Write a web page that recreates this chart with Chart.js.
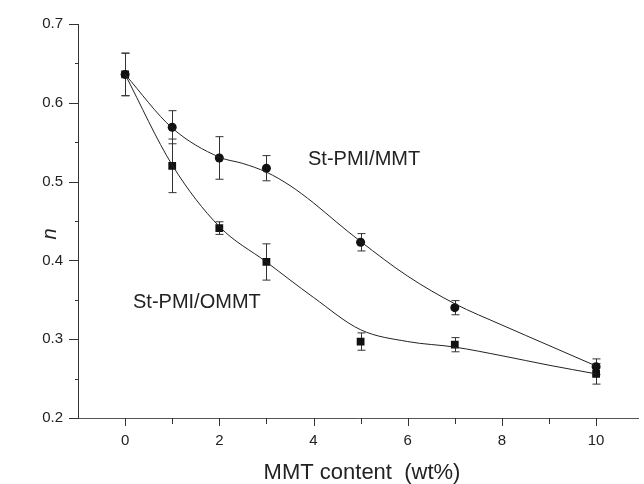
<!DOCTYPE html>
<html>
<head>
<meta charset="utf-8">
<script src="https://cdn.jsdelivr.net/npm/chart.js@4"></script>
<style>
  html, body { margin: 0; padding: 0; background: #fff; }
  #chart { display: block; }
</style>
</head>
<body>
<canvas id="chart" width="644" height="484"></canvas>
<script>
// measured points (MMT content in wt%)
const xValues = [0, 1, 2, 3, 5, 7, 10];
const mmtValues = [0.636, 0.569, 0.530, 0.517, 0.423, 0.340, 0.265];
const mmtErrors = [0.027, 0.021, 0.027, 0.016, 0.011, 0.009, 0.010];
const ommtValues = [0.636, 0.520, 0.441, 0.398, 0.297, 0.293, 0.256];
const ommtErrors = [0.027, 0.034, 0.008, 0.023, 0.011, 0.009, 0.013];

// fitted curves
const mmtCurveX = [0, 1, 2, 2.5, 3, 3.5, 4, 4.5, 5, 6, 7, 8, 9, 10];
const mmtCurve = [0.636, 0.568, 0.531, 0.523, 0.512, 0.495, 0.473, 0.448, 0.424, 0.380, 0.345, 0.318, 0.292, 0.266];
const ommtCurveX = [0, 1, 2, 3, 4, 5, 6, 7, 8, 9, 10];
const ommtCurve = [0.636, 0.521, 0.443, 0.398, 0.353, 0.312, 0.297, 0.290, 0.279, 0.267, 0.256];

const xTickLabels = [0, 2, 4, 6, 8, 10];
const yTickLabels = [0.2, 0.3, 0.4, 0.5, 0.6, 0.7];

const FONT = "'Liberation Sans', Arial, Helvetica, sans-serif";
const INK = "#222";

function toPoints(xs, ys) {
  return xs.map((x, i) => ({ x: x, y: ys[i] }));
}

const errorBars = {
  id: "errorBars",
  beforeDatasetsDraw(chart) {
    const { ctx, scales } = chart;
    const sets = [
      [mmtValues, mmtErrors],
      [ommtValues, ommtErrors],
    ];
    ctx.save();
    ctx.strokeStyle = "#333";
    ctx.lineWidth = 1;
    for (const [vals, errs] of sets) {
      xValues.forEach((x, i) => {
        const px = Math.round(scales.x.getPixelForValue(x)) + 0.5;
        const top = scales.y.getPixelForValue(vals[i] + errs[i]);
        const bot = scales.y.getPixelForValue(vals[i] - errs[i]);
        ctx.beginPath();
        ctx.moveTo(px, top);
        ctx.lineTo(px, bot);
        ctx.moveTo(px - 4, top);
        ctx.lineTo(px + 4, top);
        ctx.moveTo(px - 4, bot);
        ctx.lineTo(px + 4, bot);
        ctx.stroke();
      });
    }
    ctx.restore();
  },
};

const axisMarks = {
  id: "axisMarks",
  afterDraw(chart) {
    const { ctx, scales, chartArea } = chart;
    ctx.save();
    ctx.strokeStyle = "#333";
    ctx.lineWidth = 1;
    ctx.beginPath();
    scales.x.ticks.forEach((t) => {
      if (t.value <= -1 || !Number.isInteger(t.value)) return;
      const px = Math.round(scales.x.getPixelForValue(t.value)) + 0.5;
      const len = xTickLabels.includes(t.value) ? 8 : 6;
      ctx.moveTo(px, chartArea.bottom);
      ctx.lineTo(px, chartArea.bottom + len);
    });
    scales.y.ticks.forEach((t) => {
      const py = Math.round(scales.y.getPixelForValue(t.value)) + 0.5;
      const major = yTickLabels.some((v) => Math.abs(v - t.value) < 1e-6);
      ctx.moveTo(chartArea.left, py);
      ctx.lineTo(chartArea.left - (major ? 9 : 3), py);
    });
    ctx.stroke();

    ctx.fillStyle = INK;
    ctx.font = "22px " + FONT;
    ctx.textAlign = "center";
    ctx.textBaseline = "alphabetic";
    ctx.fillText("MMT content  (wt%)", 362, 479);

    ctx.font = "20px " + FONT;
    ctx.textAlign = "left";
    ctx.fillText("St-PMI/MMT", 308, 165);
    ctx.fillText("St-PMI/OMMT", 133, 308);

    ctx.translate(56, 234);
    ctx.rotate(-Math.PI / 2);
    ctx.textAlign = "center";
    ctx.font = "italic 20px " + FONT;
    ctx.fillText("n", 0, 0);
    ctx.restore();
  },
};

new Chart(document.getElementById("chart"), {
  type: "scatter",
  data: {
    datasets: [
      {
        label: "St-PMI/MMT fit",
        data: toPoints(mmtCurveX, mmtCurve),
        showLine: true,
        cubicInterpolationMode: "monotone",
        borderColor: INK,
        borderWidth: 1,
        pointRadius: 0,
      },
      {
        label: "St-PMI/OMMT fit",
        data: toPoints(ommtCurveX, ommtCurve),
        showLine: true,
        cubicInterpolationMode: "monotone",
        borderColor: INK,
        borderWidth: 1,
        pointRadius: 0,
      },
      {
        label: "St-PMI/MMT",
        data: toPoints(xValues, mmtValues),
        pointStyle: "circle",
        pointRadius: 4.5,
        backgroundColor: "#111",
        borderColor: "#111",
        borderWidth: 0,
      },
      {
        label: "St-PMI/OMMT",
        data: toPoints(xValues, ommtValues),
        pointStyle: "rect",
        pointRadius: 5.5,
        backgroundColor: "#111",
        borderColor: "#111",
        borderWidth: 0,
      },
    ],
  },
  options: {
    responsive: false,
    animation: false,
    layout: { padding: { top: 20, right: 0, left: 0, bottom: 0 } },
    plugins: {
      legend: { display: false },
      tooltip: { enabled: false },
    },
    scales: {
      x: {
        type: "linear",
        min: -1,
        max: 10.9,
        afterFit: (s) => {
          s.height = 66;
          s.paddingLeft = 0;
          s.paddingRight = 0;
        },
        grid: { display: false, drawTicks: false },
        border: { display: true, color: "#555", width: 1 },
        ticks: {
          stepSize: 1,
          includeBounds: false,
          padding: 14,
          color: INK,
          font: { family: FONT, size: 15 },
          maxRotation: 0,
          autoSkip: false,
          callback: (v) => (xTickLabels.includes(v) ? String(v) : ""),
        },
      },
      y: {
        min: 0.2,
        max: 0.7,
        afterFit: (s) => {
          s.width = 78;
        },
        grid: { display: false, drawTicks: false },
        border: { display: true, color: "#333", width: 1 },
        ticks: {
          stepSize: 0.05,
          padding: 15,
          color: INK,
          font: { family: FONT, size: 15 },
          autoSkip: false,
          callback: (v) => {
            const hit = yTickLabels.find((t) => Math.abs(t - v) < 1e-6);
            return hit !== undefined ? hit.toFixed(1) : "";
          },
        },
      },
    },
  },
  plugins: [errorBars, axisMarks],
});
</script>
</body>
</html>
